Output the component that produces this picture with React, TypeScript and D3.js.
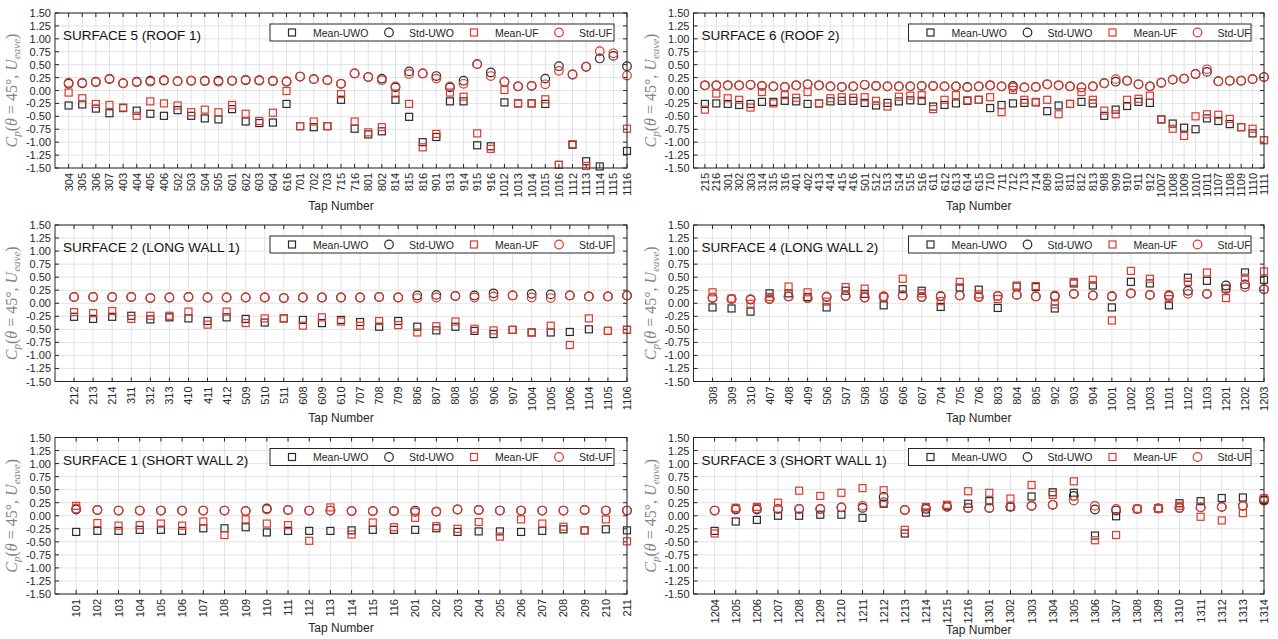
import React from 'react';
import * as d3 from 'd3';

// ---------- DATA ----------
const s5Taps = ['304','305','306','307','403','404','405','406','502','503','504','505','601','602','603','604','616','701','702','703','715','716','801','802','814','815','816','901','913','914','915','916','1012','1013','1014','1015','1016','1112','1113','1114','1115','1116'];
const s5MeanUWO = [-0.29,-0.27,-0.35,-0.44,-0.34,-0.39,-0.45,-0.49,-0.38,-0.49,-0.54,-0.56,-0.36,-0.60,-0.63,-0.62,-0.26,-0.69,-0.71,-0.69,-0.18,-0.74,-0.85,-0.79,-0.18,-0.51,-1.00,-0.90,-0.21,-0.21,-1.06,-1.08,-0.23,-0.25,-0.25,-0.26,-1.44,-1.05,-1.37,-1.47,null,-1.17];
const s5StdUWO = [0.13,0.14,0.17,0.22,0.14,0.17,0.19,0.20,0.18,0.19,0.19,0.19,0.19,0.20,0.20,0.19,0.17,0.27,0.22,0.20,0.13,0.33,0.26,0.23,0.06,0.37,0.33,0.28,0.06,0.19,0.51,0.35,0.17,0.08,0.09,0.23,0.47,0.31,0.46,0.62,0.67,0.47];
const s5MeanUF = [-0.04,-0.15,-0.26,-0.28,-0.33,-0.49,-0.21,-0.25,-0.29,-0.42,-0.37,-0.42,-0.28,-0.45,-0.59,-0.43,-0.01,-0.69,-0.60,-0.69,-0.07,-0.60,-0.81,-0.71,-0.06,-0.26,-1.10,-0.84,-0.04,-0.12,-0.83,-1.13,0.01,-0.25,-0.25,-0.17,-1.44,-1.04,-1.46,null,null,-0.74];
const s5StdUF = [0.15,0.15,0.16,0.23,0.14,0.16,0.17,0.19,0.18,0.19,0.18,0.17,0.19,0.21,0.19,0.18,0.18,0.27,0.22,0.20,0.13,0.33,0.26,0.20,0.08,0.32,0.33,0.23,0.08,0.13,0.51,0.28,0.17,0.08,0.09,0.12,0.38,0.31,0.46,0.76,0.72,0.29];

const s6Taps = ['215','216','301','302','303','314','315','316','401','402','413','414','415','416','501','512','513','514','515','516','611','612','613','614','615','710','711','712','713','714','809','810','811','812','813','908','909','910','911','912','1007','1008','1009','1010','1011','1107','1108','1109','1110','1111'];
const s6MeanUWO = [-0.26,-0.25,-0.26,-0.28,-0.26,-0.22,-0.22,-0.20,-0.21,-0.26,-0.25,-0.21,-0.20,-0.20,-0.24,-0.29,-0.24,-0.21,-0.19,-0.20,-0.31,-0.28,-0.25,-0.20,-0.18,-0.34,-0.28,-0.25,-0.24,-0.23,-0.40,-0.29,-0.26,-0.22,-0.25,-0.49,-0.37,-0.30,-0.22,-0.24,-0.56,-0.64,-0.72,-0.75,-0.54,-0.59,-0.65,-0.71,-0.83,-0.96];
const s6StdUWO = [0.10,0.10,0.10,0.10,0.11,0.09,0.08,0.07,0.10,0.12,0.10,0.08,0.07,0.08,0.11,0.09,0.08,0.08,0.08,0.09,0.09,0.08,0.08,0.07,0.08,0.10,0.08,0.09,0.06,0.07,0.12,0.10,0.08,0.06,0.08,0.14,0.17,0.19,0.12,0.08,0.15,0.21,0.23,0.32,0.36,0.18,0.19,0.19,0.22,0.26];
const s6MeanUF = [-0.37,-0.06,-0.15,-0.18,-0.33,-0.03,-0.25,-0.09,-0.14,-0.03,-0.25,-0.15,-0.13,-0.14,-0.13,-0.20,-0.31,-0.12,-0.10,-0.09,-0.36,-0.18,-0.09,-0.19,-0.18,-0.13,-0.42,0.01,-0.18,-0.22,-0.18,-0.46,-0.26,-0.03,-0.18,-0.39,-0.46,-0.18,-0.16,-0.10,-0.56,-0.74,-0.88,-0.50,-0.46,-0.47,-0.55,-0.71,-0.74,-0.96];
const s6StdUF = [0.10,0.10,0.10,0.10,0.11,0.09,0.08,0.07,0.10,0.12,0.10,0.08,0.07,0.08,0.11,0.09,0.08,0.08,0.08,0.09,0.09,0.08,0.08,0.06,0.08,0.10,0.08,0.06,0.06,0.07,0.12,0.10,0.08,0.06,0.08,0.14,0.22,0.19,0.12,0.08,0.15,0.21,0.23,0.32,0.41,0.18,0.19,0.19,0.22,0.26];

const s2Taps = ['212','213','214','311','312','313','410','411','412','509','510','511','608','609','610','707','708','709','806','807','808','905','906','907','1004','1005','1006','1104','1105','1106'];
const s2MeanUWO = [-0.26,-0.30,-0.26,-0.24,-0.31,-0.27,-0.29,-0.34,-0.27,-0.30,-0.37,-0.29,-0.32,-0.38,-0.32,-0.36,-0.45,-0.34,-0.45,-0.52,-0.45,-0.53,-0.59,-0.51,-0.56,-0.56,-0.55,-0.50,-0.53,-0.51];
const s2StdUWO = [0.12,0.12,0.12,0.12,0.10,0.11,0.12,0.11,0.11,0.11,0.11,0.10,0.11,0.11,0.11,0.11,0.12,0.11,0.15,0.16,0.14,0.15,0.19,0.15,0.18,0.17,0.15,0.13,0.13,0.15];
const s2MeanUF = [-0.17,-0.19,-0.15,-0.30,-0.24,-0.24,-0.16,-0.41,-0.16,-0.38,-0.29,-0.29,-0.43,-0.27,-0.35,-0.43,-0.34,-0.42,-0.56,-0.44,-0.35,-0.49,-0.52,-0.51,-0.56,-0.43,-0.80,-0.29,-0.53,-0.51];
const s2StdUF = [0.12,0.12,0.12,0.12,0.10,0.11,0.12,0.11,0.11,0.11,0.11,0.10,0.11,0.11,0.11,0.11,0.12,0.11,0.10,0.11,0.14,0.11,0.13,0.15,0.11,0.10,0.15,0.13,0.13,0.15];

const s4Taps = ['308','309','310','407','408','409','506','507','508','605','606','607','704','705','706','803','804','805','902','903','904','1001','1002','1003','1101','1102','1103','1201','1202','1203'];
const s4MeanUWO = [-0.08,-0.10,-0.16,0.19,0.19,0.12,-0.08,0.24,0.18,-0.04,0.27,0.24,-0.07,0.30,0.26,-0.09,0.32,0.31,-0.10,0.38,0.34,-0.08,0.41,0.38,-0.04,0.49,0.43,0.28,0.59,0.45];
const s4StdUWO = [0.10,0.08,0.07,0.08,0.13,0.10,0.12,0.14,0.11,0.13,0.15,0.12,0.13,0.15,0.12,0.14,0.16,0.13,0.13,0.18,0.15,0.13,0.19,0.16,0.14,0.24,0.18,0.34,0.36,0.27];
const s4MeanUF = [0.21,0.09,-0.01,0.12,0.32,0.21,0.03,0.31,0.28,0.12,0.47,0.19,0.04,0.41,0.17,0.08,0.34,0.33,-0.02,0.41,0.45,-0.33,0.62,0.47,0.08,0.41,0.59,0.10,0.49,0.61];
const s4StdUF = [0.11,0.08,0.08,0.08,0.13,0.10,0.13,0.14,0.11,0.13,0.15,0.12,0.14,0.15,0.12,0.14,0.16,0.13,0.15,0.18,0.15,0.14,0.19,0.16,0.16,0.18,0.18,0.27,0.31,0.27];

const s1Taps = ['101','102','103','104','105','106','107','108','109','110','111','112','113','114','115','116','201','202','203','204','205','206','207','208','209','210','211'];
const s1MeanUWO = [-0.31,-0.29,-0.29,-0.27,-0.27,-0.29,-0.24,-0.24,-0.22,-0.32,-0.29,-0.29,-0.29,-0.28,-0.27,-0.27,-0.27,-0.24,-0.31,-0.30,-0.30,-0.31,-0.29,-0.26,-0.28,-0.26,-0.28];
const s1StdUWO = [0.12,0.11,0.10,0.10,0.10,0.10,0.10,0.10,0.09,0.14,0.11,0.10,0.10,0.09,0.09,0.09,0.10,0.08,0.12,0.11,0.10,0.10,0.10,0.10,0.11,0.10,0.10];
const s1MeanUF = [0.19,-0.14,-0.19,-0.18,-0.15,-0.19,-0.11,-0.37,-0.07,-0.15,-0.18,-0.48,0.16,-0.36,-0.13,-0.22,-0.04,-0.20,-0.25,-0.12,-0.40,-0.07,-0.15,-0.21,-0.28,-0.07,-0.49];
const s1StdUF = [0.14,0.11,0.10,0.10,0.10,0.10,0.10,0.10,0.09,0.12,0.11,0.10,0.10,0.09,0.09,0.09,0.07,0.08,0.12,0.11,0.10,0.10,0.10,0.10,0.11,0.10,0.10];

const s3Taps = ['1204','1205','1206','1207','1208','1209','1210','1211','1212','1213','1214','1215','1216','1301','1302','1303','1304','1305','1306','1307','1308','1309','1310','1311','1312','1313','1314'];
const s3MeanUWO = [-0.29,-0.11,-0.08,0.00,0.00,0.02,0.02,-0.04,0.23,-0.34,0.06,0.19,0.23,0.28,0.17,0.37,0.45,0.44,-0.38,-0.01,0.13,0.14,0.24,0.28,0.34,0.35,0.30];
const s3StdUWO = [0.10,0.12,0.12,0.13,0.13,0.13,0.16,0.15,0.36,0.11,0.13,0.17,0.15,0.15,0.17,0.19,0.21,0.38,0.12,0.10,0.13,0.14,0.15,0.16,0.17,0.19,0.29];
const s3MeanUF = [-0.34,0.15,0.17,0.25,0.48,0.38,0.44,0.53,0.49,-0.27,0.17,0.21,0.47,0.44,0.33,0.59,0.40,0.66,-0.47,-0.37,0.13,0.14,0.19,-0.02,-0.09,0.05,0.33];
const s3StdUF = [0.10,0.14,0.14,0.13,0.13,0.13,0.16,0.19,0.26,0.11,0.15,0.17,0.15,0.15,0.17,0.19,0.21,0.29,0.19,0.13,0.13,0.14,0.15,0.16,0.17,0.19,0.33];

const yTicks = [1.5,1.25,1.0,0.75,0.5,0.25,0.0,-0.25,-0.5,-0.75,-1.0,-1.25,-1.5];
const legendLabels = ['Mean-UWO','Std-UWO','Mean-UF','Std-UF'];

// ---------- STYLE ----------
const BLACK = '#2b2b2b';
const RED = '#dd3a30';
const FRAME = '#262626';
const GRID = '#e3e3e3';
const SANS = '"Liberation Sans", Arial, Helvetica, sans-serif';
const SERIF = '"Liberation Serif", "DejaVu Serif", "Times New Roman", serif';

type PanelProps = {
  id: string;
  title: string;
  taps: string[];
  meanUWO: (number | null)[];
  stdUWO: (number | null)[];
  meanUF: (number | null)[];
  stdUF: (number | null)[];
  x0: number; x1: number; y0: number; y1: number;
  xlabelOff: number;
};

const Square = ({ cx, cy, color }: { cx: number; cy: number; color: string }) => (
  <rect x={cx - 3.5} y={cy - 3.5} width={7} height={7} fill="none" stroke={color} strokeWidth={1.2} />
);
const Circ = ({ cx, cy, color }: { cx: number; cy: number; color: string }) => (
  <circle cx={cx} cy={cy} r={4.3} fill="none" stroke={color} strokeWidth={1.2} />
);

function Panel(p: PanelProps) {
  const n = p.taps.length;
  const x = d3.scaleLinear().domain([0, n]).range([p.x0, p.x1]);
  const y = d3.scaleLinear().domain([-1.5, 1.5]).range([p.y1, p.y0]);
  const idx = d3.range(1, n + 1);
  const tickLen = 4;
  const series: { vals: (number | null)[]; color: string; shape: 'sq' | 'ci' }[] = [
    { vals: p.meanUWO, color: BLACK, shape: 'sq' },
    { vals: p.stdUWO, color: BLACK, shape: 'ci' },
    { vals: p.meanUF, color: RED, shape: 'sq' },
    { vals: p.stdUF, color: RED, shape: 'ci' },
  ];
  const lx = p.x0 + 215;
  const lx1 = p.x1 - 13;
  const ly = p.y0 + 11;
  const lh = 17;
  const legOffsets = [
    { m: 22, t: 43 },
    { m: 119, t: 139 },
    { m: 204, t: 225 },
    { m: 289, t: 309 },
  ];
  const cy = (p.y0 + p.y1) / 2;
  const cx = (p.x0 + p.x1) / 2;
  return (
    <g>
      <defs>
        <clipPath id={`clip-${p.id}`}>
          <rect x={p.x0} y={p.y0 - 4} width={p.x1 - p.x0 + 5} height={p.y1 - p.y0 + 8} />
        </clipPath>
      </defs>
      <rect x={p.x0} y={p.y0} width={p.x1 - p.x0} height={p.y1 - p.y0} fill="#fff" />
      {idx.map((i) => (
        <line key={`gx${i}`} x1={x(i)} x2={x(i)} y1={p.y0} y2={p.y1} stroke={GRID} strokeWidth={1} />
      ))}
      {yTicks.map((t) => (
        <line key={`gy${t}`} x1={p.x0} x2={p.x1} y1={y(t)} y2={y(t)} stroke={GRID} strokeWidth={1} />
      ))}
      {idx.map((i) => (
        <g key={`tx${i}`}>
          <line x1={x(i)} x2={x(i)} y1={p.y1} y2={p.y1 - tickLen} stroke={FRAME} strokeWidth={1} />
          <line x1={x(i)} x2={x(i)} y1={p.y0} y2={p.y0 + tickLen} stroke={FRAME} strokeWidth={1} />
        </g>
      ))}
      {yTicks.map((t) => (
        <g key={`ty${t}`}>
          <line x1={p.x0} x2={p.x0 + tickLen} y1={y(t)} y2={y(t)} stroke={FRAME} strokeWidth={1} />
          <line x1={p.x1} x2={p.x1 - tickLen} y1={y(t)} y2={y(t)} stroke={FRAME} strokeWidth={1} />
        </g>
      ))}
      <g clipPath={`url(#clip-${p.id})`}>
        {series.map((s, si) =>
          s.vals.map((v, i) => {
            if (v === null) return null;
            const px = x(i + 1);
            const py = y(v);
            return s.shape === 'sq'
              ? <Square key={`m${si}-${i}`} cx={px} cy={py} color={s.color} />
              : <Circ key={`m${si}-${i}`} cx={px} cy={py} color={s.color} />;
          })
        )}
      </g>
      <rect x={p.x0} y={p.y0} width={p.x1 - p.x0} height={p.y1 - p.y0} fill="none" stroke={FRAME} strokeWidth={1} />
      {yTicks.map((t) => (
        <text key={`yl${t}`} x={p.x0 - 4} y={y(t) + 4} textAnchor="end" fontFamily={SANS} fontSize={11} fill={FRAME}>
          {t.toFixed(2)}
        </text>
      ))}
      {p.taps.map((t, i) => (
        <text key={`xl${i}`} transform={`translate(${x(i + 1) + 4},${p.y1 + 5}) rotate(-90)`} textAnchor="end" fontFamily={SANS} fontSize={11} fill={FRAME}>
          {t}
        </text>
      ))}
      <text x={cx} y={p.y1 + p.xlabelOff} textAnchor="middle" fontFamily={SANS} fontSize={12} fill={FRAME}>Tap Number</text>
      <text transform={`translate(${p.x0 - 38},${cy}) rotate(-90)`} textAnchor="middle" fontFamily={SERIF} fontSize={16} fill="#858585">
        <tspan fontStyle="italic">C</tspan>
        <tspan fontStyle="italic" fontSize={11} dy={3}>p</tspan>
        <tspan dy={-3}>(</tspan>
        <tspan fontStyle="italic">θ</tspan>
        <tspan> = 45°, </tspan>
        <tspan fontStyle="italic">U</tspan>
        <tspan fontStyle="italic" fontSize={11} dy={3}>eave</tspan>
        <tspan dy={-3}>)</tspan>
      </text>
      <text x={p.x0 + 8} y={p.y0 + 27} fontFamily={SANS} fontSize={13.5} fill="#111">{p.title}</text>
      <rect x={lx} y={ly} width={lx1 - lx} height={lh} fill="#fff" stroke={FRAME} strokeWidth={1} />
      {legendLabels.map((lab, i) => {
        const mx = lx + legOffsets[i].m;
        const my = ly + lh / 2;
        const color = i < 2 ? BLACK : RED;
        return (
          <g key={`lg${i}`}>
            {i % 2 === 0 ? <Square cx={mx} cy={my} color={color} /> : <Circ cx={mx} cy={my} color={color} />}
            <text x={lx + legOffsets[i].t} y={my + 4} fontFamily={SANS} fontSize={10.5} fill={FRAME}>{lab}</text>
          </g>
        );
      })}
    </g>
  );
}

const LX0 = 55, LX1 = 627, RX0 = 693.5, RX1 = 1264;
const rows = [
  { y0: 13, y1: 168 },
  { y0: 225, y1: 381.5 },
  { y0: 437.5, y1: 594 },
];

export default function App() {
  return (
    <svg width={1278} height={639} style={{ position: 'absolute', left: 0, top: 0, background: '#fff' }}>
      <rect x={0} y={0} width={1278} height={639} fill="#fff" />
      <Panel id="s5" title="SURFACE 5 (ROOF 1)" taps={s5Taps} meanUWO={s5MeanUWO} stdUWO={s5StdUWO} meanUF={s5MeanUF} stdUF={s5StdUF}
        x0={LX0} x1={LX1} y0={rows[0].y0} y1={rows[0].y1} xlabelOff={42} />
      <Panel id="s6" title="SURFACE 6 (ROOF 2)" taps={s6Taps} meanUWO={s6MeanUWO} stdUWO={s6StdUWO} meanUF={s6MeanUF} stdUF={s6StdUF}
        x0={RX0} x1={RX1} y0={rows[0].y0} y1={rows[0].y1} xlabelOff={42} />
      <Panel id="s2" title="SURFACE 2 (LONG WALL 1)" taps={s2Taps} meanUWO={s2MeanUWO} stdUWO={s2StdUWO} meanUF={s2MeanUF} stdUF={s2StdUF}
        x0={LX0} x1={LX1} y0={rows[1].y0} y1={rows[1].y1} xlabelOff={40} />
      <Panel id="s4" title="SURFACE 4 (LONG WALL 2)" taps={s4Taps} meanUWO={s4MeanUWO} stdUWO={s4StdUWO} meanUF={s4MeanUF} stdUF={s4StdUF}
        x0={RX0} x1={RX1} y0={rows[1].y0} y1={rows[1].y1} xlabelOff={40} />
      <Panel id="s1" title="SURFACE 1 (SHORT WALL 2)" taps={s1Taps} meanUWO={s1MeanUWO} stdUWO={s1StdUWO} meanUF={s1MeanUF} stdUF={s1StdUF}
        x0={LX0} x1={LX1} y0={rows[2].y0} y1={rows[2].y1} xlabelOff={38} />
      <Panel id="s3" title="SURFACE 3 (SHORT WALL 1)" taps={s3Taps} meanUWO={s3MeanUWO} stdUWO={s3StdUWO} meanUF={s3MeanUF} stdUF={s3StdUF}
        x0={RX0} x1={RX1} y0={rows[2].y0} y1={rows[2].y1} xlabelOff={40} />
    </svg>
  );
}
